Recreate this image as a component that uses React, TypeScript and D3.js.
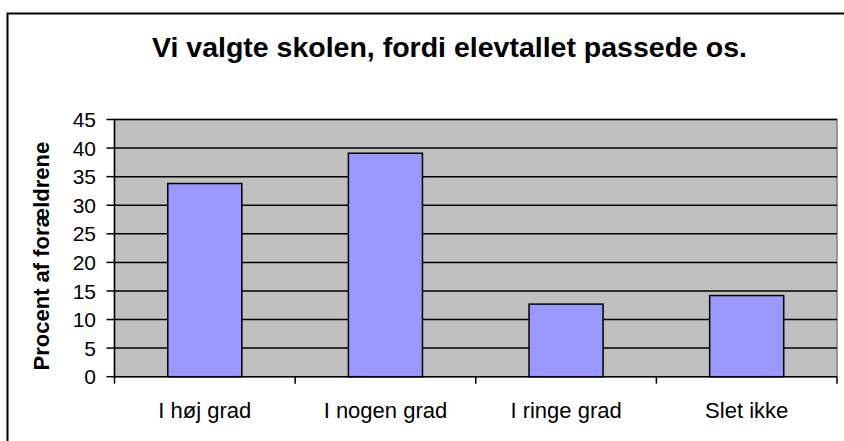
import React from "react";
import * as d3 from "d3";

const categories = ["I høj grad", "I nogen grad", "I ringe grad", "Slet ikke"];
const values = [33.8, 39.1, 12.7, 14.2];
const yTicks = [0, 5, 10, 15, 20, 25, 30, 35, 40, 45];
const title = "Vi valgte skolen, fordi elevtallet passede os.";
const yTitle = "Procent af forældrene";

const W = 844;
const H = 441;
const plot = { left: 114.5, right: 837, top: 119.5, bottom: 376.7 };
const FONT = "'Liberation Sans', Arial, sans-serif";

export default function App() {
  const x = d3
    .scaleBand<string>()
    .domain(categories)
    .range([plot.left, plot.right])
    .paddingInner(0.59)
    .paddingOuter(0.295);
  const xOuter = d3.scaleBand<string>().domain(categories).range([plot.left, plot.right]);
  const y = d3.scaleLinear().domain([0, 45]).range([plot.bottom, plot.top]);

  return (
    <svg
      width={W}
      height={H}
      style={{ position: "absolute", left: 0, top: 0, background: "#fff" }}
      fontFamily={FONT}
    >
      <rect x={7.5} y={13.5} width={W + 10} height={H + 10} fill="#fff" stroke="#000" strokeWidth={2} />
      <text x={449.5} y={57} textAnchor="middle" fontWeight="bold" fontSize={28.5} fill="#000">
        {title}
      </text>
      <rect
        x={plot.left}
        y={plot.top}
        width={plot.right - plot.left}
        height={plot.bottom - plot.top}
        fill="#c0c0c0"
        stroke="#808080"
        strokeWidth={1.5}
      />
      {yTicks.slice(1).map((t) => (
        <line key={"g" + t} x1={plot.left} x2={plot.right} y1={y(t)} y2={y(t)} stroke="#000" strokeWidth={1.5} />
      ))}
      {categories.map((c, i) => (
        <rect
          key={c}
          x={x(c)}
          y={y(values[i])}
          width={x.bandwidth()}
          height={y(0) - y(values[i])}
          fill="#9999ff"
          stroke="#000"
          strokeWidth={1.5}
        />
      ))}
      <line x1={plot.left} x2={plot.left} y1={plot.top} y2={plot.bottom} stroke="#000" strokeWidth={1.5} />
      <line x1={plot.left} x2={plot.right} y1={plot.bottom} y2={plot.bottom} stroke="#000" strokeWidth={1.5} />
      {yTicks.map((t) => (
        <g key={"t" + t}>
          <line x1={plot.left - 8} x2={plot.left} y1={y(t)} y2={y(t)} stroke="#000" strokeWidth={1.5} />
          <text x={96} y={y(t)} dy="0.36em" textAnchor="end" fontSize={21} fill="#000">
            {t}
          </text>
        </g>
      ))}
      {categories.map((c) => (
        <line
          key={"xt" + c}
          x1={xOuter(c)!}
          x2={xOuter(c)!}
          y1={plot.bottom}
          y2={plot.bottom + 7}
          stroke="#000"
          strokeWidth={1.5}
        />
      ))}
      <line x1={plot.right} x2={plot.right} y1={plot.bottom} y2={plot.bottom + 7} stroke="#000" strokeWidth={1.5} />
      {categories.map((c) => (
        <text
          key={"xl" + c}
          x={xOuter(c)! + xOuter.bandwidth() / 2}
          y={418}
          textAnchor="middle"
          fontSize={22}
          fill="#000"
        >
          {c}
        </text>
      ))}
      <text
        transform={`translate(49,${(plot.top + plot.bottom) / 2 + 8}) rotate(-90)`}
        textAnchor="middle"
        fontWeight="bold"
        fontSize={22}
        fill="#000"
      >
        {yTitle}
      </text>
    </svg>
  );
}
